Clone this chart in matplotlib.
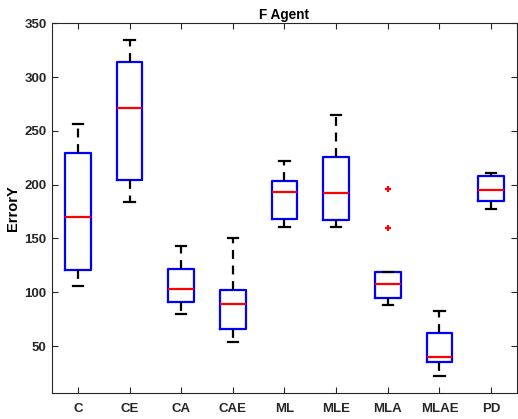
import matplotlib
matplotlib.use("Agg")
import matplotlib.pyplot as plt

# categories and box stats
labels  = ["C", "CE", "CA", "CAE", "ML", "MLE", "MLA", "MLAE", "PD"]
whislo  = [105.6, 184.0, 79.8, 53.4, 160.6, 160.9, 87.9, 21.8, 177.6]
q1      = [120.8, 204.7, 91.0, 65.5, 168.0, 167.4, 95.0, 34.8, 185.0]
med     = [170.0, 271.0, 103.4, 89.4, 193.2, 191.9, 107.5, 40.0, 195.0]
q3      = [229.8, 314.0, 121.7, 102.5, 203.7, 225.4, 119.3, 61.8, 207.7]
whishi  = [256.8, 335.0, 143.4, 150.0, 221.7, 264.6, 119.3, 82.9, 210.9]
fliers  = [[], [], [], [], [], [], [196.3, 159.3], [], []]

stats = []
for i, lab in enumerate(labels):
    stats.append(dict(label=lab, whislo=whislo[i], q1=q1[i], med=med[i],
                      q3=q3[i], whishi=whishi[i], fliers=fliers[i]))

plt.rcParams["font.family"] = ["Liberation Sans", "DejaVu Sans"]
plt.rcParams["font.weight"] = "bold"

fig = plt.figure(figsize=(5.18, 4.19), dpi=100)
ax = fig.add_axes([0.1004, 0.0613, 0.8976, 0.8827])

ax.bxp(stats, positions=range(1, len(labels) + 1), widths=0.5,
       boxprops=dict(color="#0000ff", linewidth=1.6),
       medianprops=dict(color="#ff0000", linewidth=1.6),
       whiskerprops=dict(color="black", linewidth=1.6, linestyle=(0, (4, 3))),
       capprops=dict(color="black", linewidth=1.6),
       capwidths=0.2,
       flierprops=dict(marker="+", markeredgecolor="#ff0000", markersize=5,
                       markeredgewidth=1.6))

ax.set_xlim(0.5, 9.5)
ax.set_ylim(6, 350)
ax.set_yticks([50, 100, 150, 200, 250, 300, 350])
ax.set_xticks(range(1, 10))
ax.set_xticklabels(labels)
ax.tick_params(direction="in", top=True, right=True, length=4, width=0.8,
               labelsize=9.5, colors="#262626")
ax.tick_params(axis="x", pad=7)
ax.tick_params(axis="y", pad=4)
for s in ax.spines.values():
    s.set_color("#262626")
    s.set_linewidth(0.8)

ax.set_title("F Agent", fontsize=9.8, fontweight="bold", pad=3)
ax.set_ylabel("ErrorY", fontsize=10.5, fontweight="bold", labelpad=3)

fig.savefig("out.png", dpi=100)
